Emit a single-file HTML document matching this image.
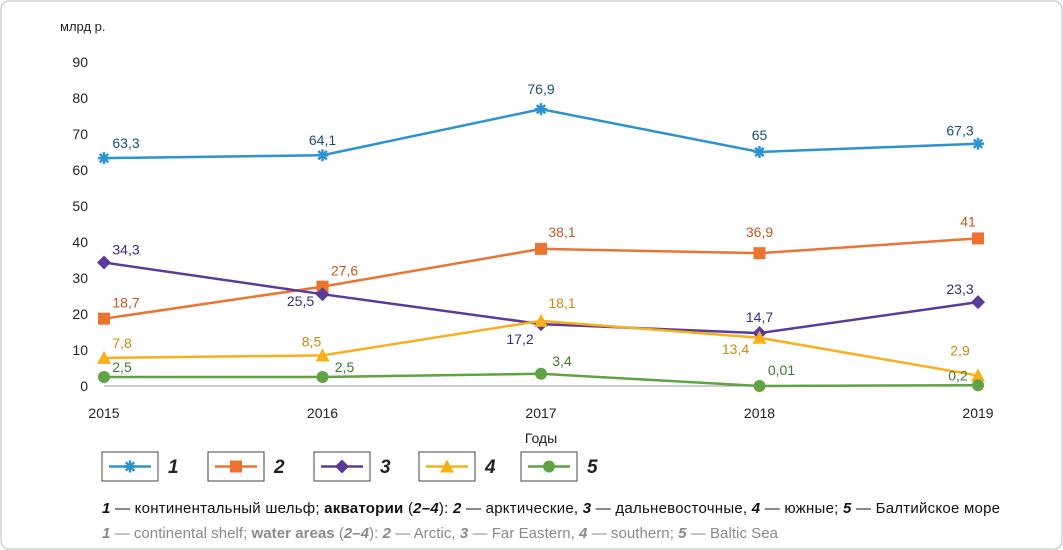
<!DOCTYPE html>
<html><head><meta charset="utf-8"><style>
body{margin:0;background:#fff;}
svg{display:block;font-family:"Liberation Sans",sans-serif;}
</style></head><body>
<svg id="c" width="1063" height="550">
<rect x="1" y="1" width="1061" height="548" rx="8" fill="#fff" stroke="#bdbdbd"/>
<text x="60" y="31" font-size="13" fill="#222">млрд р.</text>
<text x="541" y="443" font-size="14" fill="#222" text-anchor="middle">Годы</text>
<g id="axes"></g><g id="series"></g><g id="legend"></g>
<text x="102" y="513" font-size="15" fill="#111" textLength="898" lengthAdjust="spacing"><tspan font-weight="bold" font-style="italic">1</tspan> — континентальный шельф; <tspan font-weight="bold">акватории</tspan> (<tspan font-style="italic" font-weight="bold">2–4</tspan>): <tspan font-weight="bold" font-style="italic">2</tspan> — арктические, <tspan font-weight="bold" font-style="italic">3</tspan> — дальневосточные, <tspan font-weight="bold" font-style="italic">4</tspan> — южные; <tspan font-weight="bold" font-style="italic">5</tspan> — Балтийское море</text>
<text x="102" y="538" font-size="15" fill="#8a8a8a" textLength="676" lengthAdjust="spacing"><tspan font-weight="bold" font-style="italic">1</tspan> — continental shelf; <tspan font-weight="bold">water areas</tspan> (<tspan font-style="italic" font-weight="bold">2–4</tspan>): <tspan font-weight="bold" font-style="italic">2</tspan> — Arctic, <tspan font-weight="bold" font-style="italic">3</tspan> — Far Eastern, <tspan font-weight="bold" font-style="italic">4</tspan> — southern; <tspan font-weight="bold" font-style="italic">5</tspan> — Baltic Sea</text>
</svg>
<script>
const years=["2015","2016","2017","2018","2019"];
const yTicks=[0,10,20,30,40,50,60,70,80,90];
const s1=[63.3,64.1,76.9,65,67.3];
const s2=[18.7,27.6,38.1,36.9,41];
const s3=[34.3,25.5,17.2,14.7,23.3];
const s4=[7.8,8.5,18.1,13.4,2.9];
const s5=[2.5,2.5,3.4,0.01,0.2];
const names=["1","2","3","4","5"];
const NS="http://www.w3.org/2000/svg";
const X=i=>104+i*218.5, Y=v=>386-v*3.6;
function mk(t,a,p){const e=document.createElementNS(NS,t);for(const k in a)e.setAttribute(k,a[k]);p.appendChild(e);return e;}
const ax=document.getElementById('axes');
const xl=mk('line',{x1:104,y1:Y(0),x2:X(4),y2:Y(0),stroke:'#999'},ax);


yTicks.forEach(v=>{const t=mk('text',{x:88,y:Y(v)+5,'font-size':14,'text-anchor':'end',fill:'#222'},ax);t.textContent=v;

});
years.forEach((y,i)=>{const t=mk('text',{x:X(i),y:Y(0)+32,'font-size':14,'text-anchor':'middle',fill:'#222'},ax);t.textContent=y;

});
const colors=['#2b93d0','#ed7330','#5b3b99','#f5b01c','#5fa344'];
const lblColors=['#1a4f7a','#c25a1f','#3f2a80','#c98a10','#3f7a2c'];
const offs=[
[[22,-10],[0,-10],[0,-15],[0,-12],[-18,-8]],
[[22,-11],[22,-11],[21,-12],[0,-16],[-10,-12]],
[[22,-8],[-22,12],[-21,20],[0,-11],[-18,-8]],
[[18,-10],[-11,-9],[21,-13],[-24,16],[-18,-20]],
[[18,-5],[22,-5],[21,-8],[22,-11],[-20,-5]]];
const data=[s1,s2,s3,s4,s5];
function marker(k,x,y,p){let e;
 if(k==0){e=mk('g',{},p);[[0,1],[1,0],[0.7,0.7],[0.7,-0.7]].forEach(d=>mk('line',{x1:x-6*d[0],y1:y-6*d[1],x2:x+6*d[0],y2:y+6*d[1],stroke:colors[0],'stroke-width':2.5},e));}
 else if(k==1)e=mk('rect',{x:x-6,y:y-6,width:12,height:12,fill:colors[1]},p);
 else if(k==2)e=mk('polygon',{points:`${x},${y-7} ${x+7},${y} ${x},${y+7} ${x-7},${y}`,fill:colors[2]},p);
 else if(k==3)e=mk('polygon',{points:`${x},${y-7} ${x+7},${y+6} ${x-7},${y+6}`,fill:colors[3]},p);
 else e=mk('circle',{cx:x,cy:y,r:6,fill:colors[4]},p);
 return e;}
const sg=document.getElementById('series');
data.forEach((s,k)=>{const g=mk('g',{},sg);
 
 
 const pl=mk('polyline',{points:s.map((v,i)=>X(i)+','+Y(v)).join(' '),fill:'none',stroke:colors[k],'stroke-width':2.5},g);
 
 
 s.forEach((v,i)=>{const m=marker(k,X(i),Y(v),g);
  
  
  const t=mk('text',{x:X(i)+offs[k][i][0],y:Y(v)+offs[k][i][1],'font-size':14,'text-anchor':'middle',fill:lblColors[k]},g);
  t.textContent=String(v).replace('.',',');
  
  });
});
const lg=document.getElementById('legend');
[102,208,314,419,521].forEach((x,k)=>{const g=mk('g',{},lg);
 
 
 mk('rect',{x:x,y:452,width:56,height:29,fill:'#fff',stroke:'#444'},g);
 mk('line',{x1:x+7,y1:466.5,x2:x+49,y2:466.5,stroke:colors[k],'stroke-width':2.5},g);
 marker(k,x+28,466.5,g);
 const t=mk('text',{x:x+66,y:473,'font-size':19,'font-weight':'bold','font-style':'italic',fill:'#222'},g);t.textContent=names[k];});
</script>
</body></html>
